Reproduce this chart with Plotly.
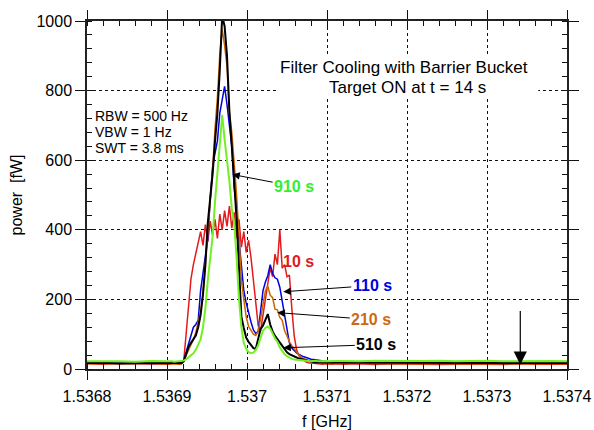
import numpy as np
import plotly.graph_objects as go

# Frequency sampling: coarse on the flat baseline, fine across the peaks
left_f = [1.53680, 1.53682, 1.53684, 1.53686, 1.53688]
peak_f = list(np.round(1.53690 + 0.000003 * np.arange(71), 7))
right_f = list(np.round(1.53712 + 0.00002 * np.arange(15), 6))
freq = left_f + peak_f + right_f

# Spectra (power in fW) at different times after injection
p_10s = ([15, 14, 16, 15, 14] +
         [15, 14, 15, 16, 15, 14, 15,
          25, 110, 200, 260, 300, 335, 362, 395, 355, 415,
          365, 425, 385, 430, 375, 445, 400, 455,
          410, 468, 405, 450, 375, 430, 350,
          395, 335, 370, 320, 255, 190,
          125, 110, 150, 200, 245, 290, 265, 330, 300,
          400, 290, 300, 265, 270, 175, 95, 55, 38, 30, 25,
          20, 18, 17, 16, 15, 16, 15, 14, 15, 14, 15, 14, 15] +
         [14, 15, 13, 15, 14, 15, 13, 14, 15, 14, 13, 15, 14, 15, 14])

p_110s = ([17, 16, 17, 18, 16] +
          [17, 16, 17, 18, 17, 16, 17,
           25, 48, 72, 95, 120, 128, 140, 225, 280, 320,
           375, 490, 580, 620, 655, 735, 780, 812,
           760, 700, 640, 520, 460, 370, 300,
           225, 190, 160, 135, 112, 102,
           108, 165, 225, 250, 268, 300, 275, 262, 258,
           235, 195, 150, 110, 75, 60, 52, 46, 42, 38, 35,
           33, 30, 28, 27, 26, 25, 23, 22, 21, 20, 19, 18, 18] +
          [17, 18, 16, 17, 18, 17, 16, 17, 18, 17, 16, 17, 18, 17, 17])

p_210s = ([16, 15, 16, 17, 15] +
          [15, 16, 15, 14, 15, 16, 15,
           25, 40, 52, 68, 85, 105, 133, 165, 215, 300,
           400, 495, 570, 690, 780, 905, 975, 930,
           870, 740, 680, 590, 500, 380, 255,
           200, 150, 122, 112, 100, 96,
           108, 145, 180, 225, 238, 212, 205, 172, 170,
           148, 140, 110, 95, 78, 68, 58, 48, 40, 33, 29,
           26, 23, 21, 19, 18, 17, 17, 16, 17, 16, 16, 17, 16] +
          [16, 17, 15, 16, 17, 16, 15, 16, 17, 16, 15, 16, 17, 16, 16])

p_510s = ([17, 18, 16, 17, 18] +
          [17, 18, 17, 16, 17, 18, 17,
           22, 45, 64, 75, 85, 96, 120, 155, 215, 300,
           420, 485, 560, 655, 735, 860, 1015, 985,
           900, 740, 650, 540, 430, 270, 150,
           118, 90, 78, 68, 60, 58,
           85, 115, 125, 142, 158, 128, 108, 95, 85,
           75, 66, 57, 48, 43, 39, 36, 33, 30, 28, 26,
           24, 22, 21, 20, 19, 19, 18, 18, 17, 18, 17, 17, 17] +
          [18, 17, 18, 17, 18, 19, 17, 18, 17, 18, 17, 18, 17, 18, 17])

p_910s = ([22, 23, 22, 21, 23] +
          [22, 23, 22, 21, 22, 23, 22,
           24, 28, 33, 38, 45, 55, 68, 85, 120, 175,
           255, 320, 380, 480, 570, 640, 730, 660,
           600, 540, 460, 420, 320, 200, 120,
           75, 58, 48, 46, 47, 55,
           68, 90, 110, 118, 122, 116, 100, 88, 78,
           62, 52, 42, 37, 32, 29, 27, 26, 25, 24, 23,
           24, 23, 22, 23, 24, 22, 23, 22, 23, 22, 23, 22, 23] +
          [23, 22, 24, 23, 22, 23, 24, 22, 23, 24, 22, 23, 22, 23, 22])

x_ticks = [1.5368, 1.5369, 1.5370, 1.5371, 1.5372, 1.5373, 1.5374]
x_labels = ["1.5368", "1.5369", "1.537", "1.5371", "1.5372", "1.5373", "1.5374"]
y_ticks = [0, 200, 400, 600, 800, 1000]
y_labels = ["0", "200", "400", "600", "800", "1000"]

FONT = "Liberation Sans, Arial, sans-serif"

series = [
    (p_10s, "#E41A1C", 1.5),
    (p_110s, "#0000E0", 1.5),
    (p_210s, "#CC6600", 1.5),
    (p_510s, "#000000", 2.0),
    (p_910s, "#72F024", 2.0),
]

fig = go.Figure()
for vals, col, w in series:
    fig.add_trace(go.Scatter(x=freq, y=vals, mode="lines",
                             line=dict(color=col, width=w),
                             showlegend=False, hoverinfo="skip"))

# helper axes carrying the inner half of the major ticks
fig.add_trace(go.Scatter(x=[], y=[], xaxis="x2", yaxis="y2",
                         showlegend=False, hoverinfo="skip"))

axis_common = dict(showline=True, linecolor="#222222", linewidth=1.5,
                   mirror="allticks", ticks="outside", tickcolor="#111111",
                   tickwidth=1, showgrid=True, gridcolor="#111111",
                   griddash="dot", gridwidth=1, zeroline=False,
                   automargin=False,
                   tickfont=dict(family=FONT, size=16, color="black"))

fig.update_layout(
    width=594, height=430,
    margin=dict(l=87, r=27, t=21, b=61, autoexpand=False),
    paper_bgcolor="white", plot_bgcolor="white",
    font=dict(family=FONT, color="black"),
    xaxis=dict(range=[1.5368, 1.5374], tickmode="array",
               tickvals=x_ticks, ticktext=x_labels, ticklen=9,
               ticklabelstandoff=3,
               minor=dict(tick0=1.5368, dtick=0.00002, ticks="inside",
                          ticklen=5, tickcolor="#111111", showgrid=False),
               title=dict(text="f [GHz]", font=dict(family=FONT, size=16),
                          standoff=12),
               **axis_common),
    yaxis=dict(range=[0, 1000], tickmode="array",
               tickvals=y_ticks, ticktext=y_labels, ticklen=10,
               minor=dict(tick0=0, dtick=40, ticks="inside",
                          ticklen=5, tickcolor="#111111", showgrid=False),
               title=dict(text="power\u00a0 [fW]", font=dict(family=FONT, size=16),
                          standoff=10),
               **axis_common),
    xaxis2=dict(range=[1.5368, 1.5374], overlaying="x", anchor="y",
                tickmode="array", tickvals=x_ticks, ticks="inside",
                ticklen=6, tickcolor="#111111", mirror="allticks",
                showticklabels=False, showgrid=False, showline=False,
                zeroline=False, automargin=False),
    yaxis2=dict(range=[0, 1000], overlaying="y", anchor="x",
                tickmode="array", tickvals=y_ticks, ticks="inside",
                ticklen=6, tickcolor="#111111", mirror="allticks",
                showticklabels=False, showgrid=False, showline=False,
                zeroline=False, automargin=False),
)

# white boxes behind the text blocks (hide the grid, stay under the curves)
fig.add_shape(type="rect", xref="x", yref="y",
              x0=1.5370376, x1=1.537364, y0=782, y1=902,
              fillcolor="white", line=dict(width=0), layer="between")
fig.add_shape(type="rect", xref="x", yref="y",
              x0=1.5368048, x1=1.536926, y0=610, y1=755,
              fillcolor="white", line=dict(width=0), layer="between")

# title block
fig.add_annotation(xref="paper", yref="paper", x=0.661, y=0.865,
                   text="Filter Cooling with Barrier Bucket", showarrow=False,
                   font=dict(family=FONT, size=17), xanchor="center", yanchor="middle")
fig.add_annotation(xref="paper", yref="paper", x=0.668, y=0.808,
                   text="Target ON at t = 14 s", showarrow=False,
                   font=dict(family=FONT, size=17), xanchor="center", yanchor="middle")

# analyser settings
for txt, yp in [("RBW = 500 Hz", 0.727), ("VBW = 1 Hz", 0.680), ("SWT = 3.8 ms", 0.635)]:
    fig.add_annotation(xref="paper", yref="paper", x=0.012, y=yp, text=txt,
                       showarrow=False, font=dict(family=FONT, size=14),
                       xanchor="left", yanchor="middle")

# time labels with arrows (tip on curve, text at tail)
labels = [
    ("910 s", "#33EE33", 1.5369816, 559, 1.537059, 525),
    ("110 s", "#0000DD", 1.5370454, 222, 1.5371566, 240),
    ("210 s", "#CC6A14", 1.5370379, 162, 1.5371554, 142),
    ("510 s", "#000000", 1.5370454, 61, 1.5371616, 70),
]
for txt, col, fx, fy, tx, ty in labels:
    fig.add_annotation(x=fx, y=fy, ax=tx, ay=ty, xref="x", yref="y",
                       axref="x", ayref="y", text="<b>%s</b>" % txt,
                       font=dict(family=FONT, size=16, color=col),
                       showarrow=True, arrowhead=2, arrowsize=1.5,
                       arrowwidth=1, arrowcolor="black", standoff=0)

fig.add_annotation(x=1.5370641, y=309, xref="x", yref="y", text="<b>10 s</b>",
                   showarrow=False, font=dict(family=FONT, size=16, color="#E01B1B"))

# marker arrow on the baseline
fig.add_annotation(x=1.5373416, y=12, ax=1.5373416, ay=171, xref="x", yref="y",
                   axref="x", ayref="y", text="", showarrow=True, arrowhead=2,
                   arrowsize=2.2, arrowwidth=1.2, arrowcolor="black")

fig.write_html("out.html")
